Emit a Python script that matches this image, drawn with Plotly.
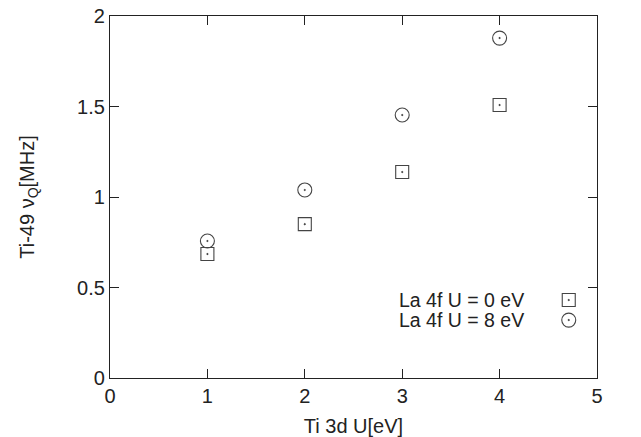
import plotly.graph_objects as go

ti_u = [1, 2, 3, 4]
nuq_la0 = [0.685, 0.85, 1.138, 1.508]
nuq_la8 = [0.757, 1.039, 1.453, 1.878]
legend_labels = ["La 4f U = 0 eV", "La 4f U = 8 eV"]
x_ticks = [0, 1, 2, 3, 4, 5]
y_ticks = [0, 0.5, 1, 1.5, 2]
y_ticklabels = ["0", "0.5", "1", "1.5", "2"]

font = dict(family="Liberation Sans, Arial, sans-serif", size=20, color="#222")
leg_font = dict(family="Liberation Sans, Arial, sans-serif", size=19.5, color="#222")
mcol = "#444"

fig = go.Figure()
fig.add_trace(go.Scatter(x=ti_u, y=nuq_la0, mode="markers", name=legend_labels[0],
                         marker=dict(symbol="square-open-dot", size=13, color=mcol, line=dict(width=1.1, color=mcol))))
fig.add_trace(go.Scatter(x=ti_u, y=nuq_la8, mode="markers", name=legend_labels[1],
                         marker=dict(symbol="circle-open-dot", size=14, color=mcol, line=dict(width=1.1, color=mcol))))

# legend keys (gnuplot style: text left, marker right) on overlay axes
leg_y = [0.2155, 0.160]
fig.add_trace(go.Scatter(x=[0.942], y=[leg_y[0]], xaxis="x2", yaxis="y2", mode="markers", showlegend=False,
                         marker=dict(symbol="square-open-dot", size=13, color=mcol, line=dict(width=1.1, color=mcol))))
fig.add_trace(go.Scatter(x=[0.942], y=[leg_y[1]], xaxis="x2", yaxis="y2", mode="markers", showlegend=False,
                         marker=dict(symbol="circle-open-dot", size=14, color=mcol, line=dict(width=1.1, color=mcol))))
for lab, yy in zip(legend_labels, leg_y):
    fig.add_annotation(x=0.855, y=yy, xref="x2", yref="y2", text=lab, showarrow=False,
                       xanchor="right", yanchor="middle", font=leg_font)

axis_common = dict(showgrid=False, zeroline=False, showline=True, linecolor="#222", linewidth=1.3,
                   mirror="ticks", ticks="inside", ticklen=9, tickwidth=1.2, tickcolor="#222",
                   tickfont=font, automargin=False)
fig.update_layout(
    width=641, height=437,
    margin=dict(l=110, r=44, t=16, b=59),
    plot_bgcolor="white", paper_bgcolor="white",
    showlegend=False,
    font=font,
    xaxis=dict(range=[0, 5], tickvals=x_ticks, title=dict(text="Ti 3d U[eV]", font=font, standoff=14), **axis_common),
    yaxis=dict(range=[0, 2], tickvals=y_ticks, ticktext=y_ticklabels,
               title=dict(text="Ti-49 ν<sub>Q</sub>[MHz]", font=font, standoff=37), **axis_common),
    xaxis2=dict(range=[0, 1], overlaying="x", visible=False, anchor="y2"),
    yaxis2=dict(range=[0, 1], overlaying="y", visible=False, anchor="x2"),
)
fig.write_html("out.html", config={"displayModeBar": False},
               post_script="document.body.style.margin='0';")
